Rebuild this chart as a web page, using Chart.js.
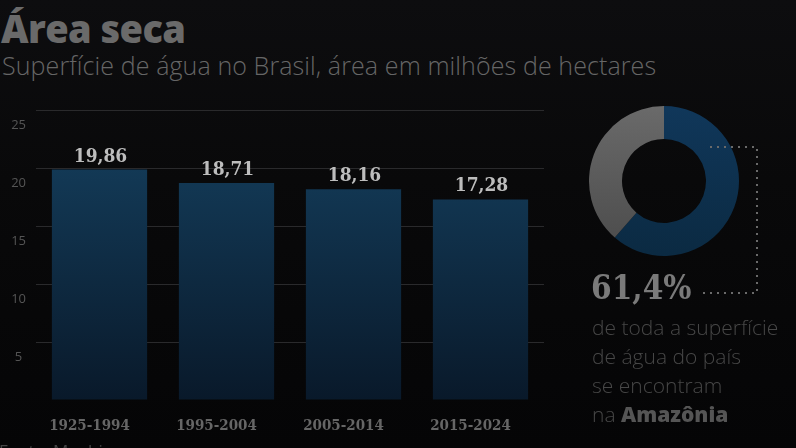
<!DOCTYPE html>
<html><head><meta charset="utf-8">
<script src="https://cdn.jsdelivr.net/npm/chart.js@4.4.1/dist/chart.umd.min.js"></script>
<style>
html,body{margin:0;padding:0;}
body{width:796px;height:448px;overflow:hidden;position:relative;
 background:linear-gradient(180deg,#0d0d0f 0%,#09090a 40%,#050506 100%);
 font-family:"Open Sans",sans-serif;}
#title{position:absolute;left:1px;top:2px;font:800 38px "Open Sans",sans-serif;color:#6a6a6a;letter-spacing:-0.6px;white-space:nowrap;}
#sub{position:absolute;left:2px;top:48px;font:300 25px "Open Sans",sans-serif;color:#666;white-space:nowrap;letter-spacing:0.1px;}
#bars{position:absolute;left:0;top:0;}
#donut{position:absolute;left:589px;top:106px;}
#pct{position:absolute;left:591px;top:268px;font:bold 33px "DejaVu Serif Condensed","Liberation Serif",serif;color:#7a7a7a;white-space:nowrap;}
#desc{position:absolute;left:592px;top:313px;font:300 21px/29px "Open Sans",sans-serif;color:#474747;white-space:nowrap;}
#desc b{font-weight:800;color:#555;}
#src{position:absolute;left:-1px;top:439px;font:400 17px "Open Sans",sans-serif;color:#444;white-space:nowrap;}
#dots{position:absolute;left:0;top:0;}
</style></head>
<body>
<div id="title">Área seca</div>
<div id="sub">Superfície de água no Brasil, área em milhões de hectares</div>
<canvas id="bars" width="560" height="448"></canvas>
<canvas id="donut" width="150" height="150"></canvas>
<svg id="dots" width="796" height="448"><path d="M710 147 H757 V293 H703" fill="none" stroke="#6a6a6a" stroke-width="2" stroke-dasharray="2 5"/></svg>
<div id="pct">61,4%</div>
<div id="desc">de toda a superfície<br>de água do país<br>se encontram<br>na <b>Amazônia</b></div>
<div id="src">Fonte: Mapbiomas</div>
<script>
const periods = ["1925-1994","1995-2004","2005-2014","2015-2024"];
const waterArea = [19.86, 18.71, 18.16, 17.28];
const yTicks = [0, 5, 10, 15, 20, 25];
const shareLabels = ["Amazônia","Outras regiões"];
const shareValues = [61.4, 38.6];

const fmt = v => v.toFixed(2).replace('.', ',');

const valueLabels = {
  id:'valueLabels',
  afterDatasetsDraw(chart){
    const ctx = chart.ctx;
    const meta = chart.getDatasetMeta(0);
    ctx.save();
    ctx.font = 'bold 19px "DejaVu Serif Condensed","Liberation Serif",serif';
    ctx.fillStyle = '#bdbdbd';
    ctx.textAlign = 'center';
    ctx.textBaseline = 'middle';
    meta.data.forEach((bar,i)=>{
      ctx.fillText(fmt(waterArea[i]), bar.x + 1, bar.y - 13);
    });
    ctx.restore();
  }
};

new Chart(document.getElementById('bars'), {
  type:'bar',
  data:{labels:periods, datasets:[{data:waterArea,
    backgroundColor:(c)=>{
      const a=c.chart.chartArea; if(!a) return '#0e2f48';
      const g=c.chart.ctx.createLinearGradient(0,a.top+50,0,a.bottom);
      g.addColorStop(0,'#133a57'); g.addColorStop(1,'#09192a'); return g;
    },
    borderWidth:0, barPercentage:0.75, categoryPercentage:1}]},
  options:{
    responsive:false, animation:false,
    layout:{padding:{top:110,right:16,left:0,bottom:0}},
    plugins:{legend:{display:false},tooltip:{enabled:false}},
    scales:{
      x:{grid:{display:false},border:{display:false},
        ticks:{color:'#666',font:{family:'"DejaVu Serif Condensed","Liberation Serif",serif',size:15,weight:'bold'},padding:9,labelOffset:-10},
        afterFit(s){s.height=48;}},
      y:{min:0,max:25,
        afterBuildTicks(s){s.ticks=yTicks.map(v=>({value:v}));},
        grid:{color:(c)=> c.tick && c.tick.value===0 ? 'rgba(0,0,0,0)' : '#2a2a2c',drawTicks:false},border:{display:false},
        ticks:{color:'#555',font:{family:'"Open Sans",sans-serif',size:13},padding:10,crossAlign:'center',labelOffset:15,
          callback:(v)=> v===0 ? '' : String(v)},
        afterFit(s){s.width=36;}}
    }
  },
  plugins:[valueLabels]
});

new Chart(document.getElementById('donut'), {
  type:'doughnut',
  data:{labels:shareLabels, datasets:[{data:shareValues,
    backgroundColor:(c)=>{
      const a=c.chart.chartArea; if(!a) return c.dataIndex===0?'#0e324e':'#5a5a5a';
      const g=c.chart.ctx.createLinearGradient(0,a.top,0,a.bottom);
      if(c.dataIndex===0){g.addColorStop(0,'#10375a');g.addColorStop(1,'#0b2a42');}
      else{g.addColorStop(0,'#6a6a6a');g.addColorStop(1,'#4a4a4a');}
      return g;
    }, borderWidth:0}]},
  options:{responsive:false, animation:false, cutout:'56%',
    plugins:{legend:{display:false},tooltip:{enabled:false}}}
});
</script>
</body></html>
